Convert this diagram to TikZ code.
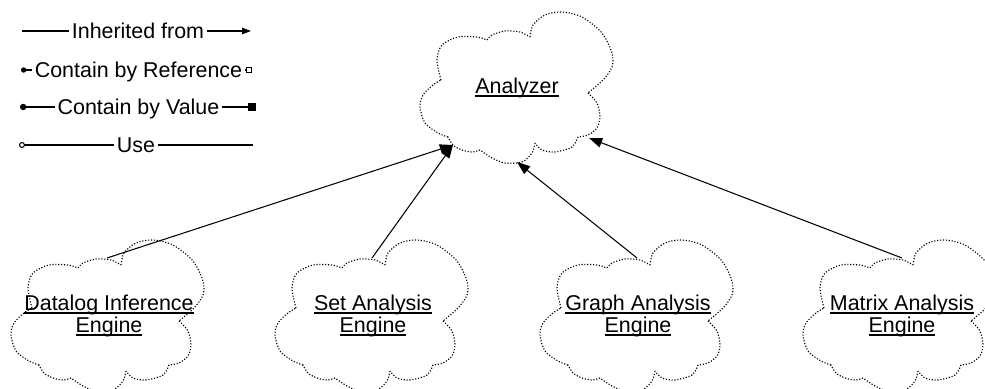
\documentclass[tikz,border=0pt]{standalone}
\usepackage{fontspec}
\setmainfont{Liberation Sans}
\usetikzlibrary{arrows.meta}

\tikzset{
	cloudline/.style={densely dotted, line width=0.65pt},
	cloudtext/.style={align=center, inner sep=0pt, font=\fontsize{12.2}{12.5}\selectfont},
	legendtext/.style={inner sep=1.2pt, text height=8.6pt, text depth=0pt, font=\fontsize{12.2}{14}\selectfont},
	link/.style={line width=0.6pt},
	inherit/.style={line width=0.6pt, -{Triangle[length=7.5pt,width=5.5pt]}},
}
% underlined label, rule just under the base line
\newcommand{\ultext}[1]{\setbox0=\hbox{#1}\rlap{\rule[-1.8pt]{\wd0}{0.9pt}}\box0}
% one cloud, centred on the origin of the scope
\newcommand{\cloudoutline}{%
	\draw[cloudline] plot [smooth] coordinates{(-75,-8) (-79,-28) (-74,-43) (-58,-51) (-39,-51) (-29,-48)} %top left
	plot [smooth] coordinates{(-29,-48) (-24,-53) (-11,-57) (4,-56) (14,-51)} %top middle
	plot [smooth] coordinates{(14,-51) (17,-63) (29,-73) (46,-76) (66,-71) (86,-55) (96,-35) (96,-21) (87,-8) (72,5)} %top right
	plot [smooth] coordinates{(72,5) (81,15) (84,29) (81,40) (72,47) (62,49)}
	plot [smooth] coordinates{(62,49) (56,59) (39,64) (26,62) (19,55)}
	plot [smooth] coordinates{(19,55) (16,65) (6,74) (-11,75) (-24,70) (-36,62)} %bottom middle
	plot [smooth] coordinates{(-36,62) (-44,64) (-54,62) (-63,57) (-68,49)}
	plot [smooth] coordinates{(-68,49) (-78,45) (-91,35) (-96,19) (-93,7) (-83,-3) (-75,-8)}; %left
}

\begin{document}
\begin{tikzpicture}[x=0.02cm, y=-0.02cm]
	\clip (0,0) rectangle (985,389);
	% legend
	\node[legendtext] (inherit) at (138,31) {Inherited from};
	\coordinate (inherit-l) at (22,31);
	\coordinate (inherit-r) at (251,31);
	\draw[link] (inherit-l) -- (inherit);
	\draw[link, -{Triangle[length=5pt,width=3.6pt]}] (inherit) -- (inherit-r);
	\node[legendtext] (byref) at (138.5,70) {Contain by Reference};
	\coordinate (byref-l) at (21,70);
	\coordinate (byref-r) at (252,70);
	\draw[link, {Circle[length=3pt]}-] (byref-l) -- (byref);
	\draw[link, -{Square[open, length=3.6pt, width=3.2pt]}] (byref) -- (byref-r);
	\node[legendtext] (byval) at (138.5,107) {Contain by Value};
	\coordinate (byval-l) at (20,107);
	\coordinate (byval-r) at (256,107);
	\draw[link, {Circle[length=3.6pt]}-] (byval-l) -- (byval);
	\draw[link, -{Square[length=4.4pt]}] (byval) -- (byval-r);
	\node[legendtext] (use) at (136,145) {Use};
	\coordinate (use-l) at (19,145);
	\coordinate (use-r) at (253,145);
	\draw[link, {Circle[open, length=3.4pt]}-] (use-l) -- (use);
	\draw[link] (use) -- (use-r);
	% the analyzer
	\begin{scope}[shift={(516,88)}]
	\cloudoutline
	\node[cloudtext] (analyzer) at (1,0) {\ultext{Analyzer}};
	\coordinate (analyzer-bl) at (-63,57);
	\coordinate (analyzer-bm) at (1,74);
	\coordinate (analyzer-br) at (73,50);
	\end{scope}
	% the engines
	\begin{scope}[shift={(107,316)}]
	\cloudoutline
	\node[cloudtext] (datalog) at (2,0) {\ultext{Datalog Inference}\\\ultext{Engine}};
	\coordinate (datalog-top) at (0,-58);
	\end{scope}
	\begin{scope}[shift={(371,316)}]
	\cloudoutline
	\node[cloudtext] (set) at (2,0) {\ultext{Set Analysis}\\\ultext{Engine}};
	\coordinate (set-top) at (1,-58);
	\end{scope}
	\begin{scope}[shift={(636,316)}]
	\cloudoutline
	\node[cloudtext] (graph) at (2,0) {\ultext{Graph Analysis}\\\ultext{Engine}};
	\coordinate (graph-top) at (1,-58);
	\end{scope}
	\begin{scope}[shift={(899,316)}]
	\cloudoutline
	\node[cloudtext] (matrix) at (3,0) {\ultext{Matrix Analysis}\\\ultext{Engine}};
	\coordinate (matrix-top) at (3,-58);
	\end{scope}
	% inheritance
	\draw[inherit] (datalog-top) -- (analyzer-bl);
	\draw[inherit] (set-top) -- (analyzer-bl);
	\draw[inherit] (graph-top) -- (analyzer-bm);
	\draw[inherit] (matrix-top) -- (analyzer-br);
\end{tikzpicture}
\end{document}
